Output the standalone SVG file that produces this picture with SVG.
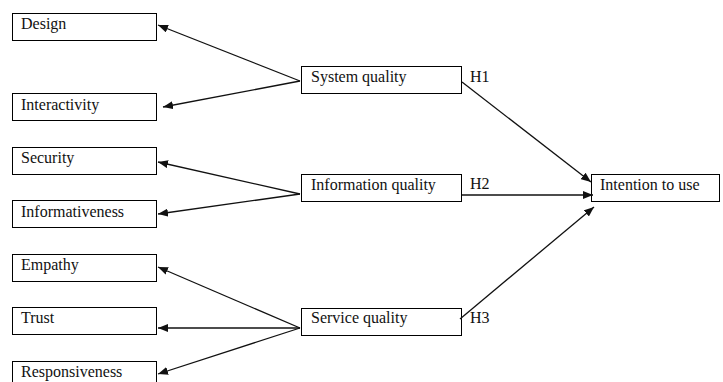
<svg xmlns="http://www.w3.org/2000/svg" width="723" height="382" viewBox="0 0 723 382">
<style>
.box{fill:#fff;stroke:#000;stroke-width:1}
.t{font-family:"Liberation Serif",serif;font-size:16px;fill:#111}
.c{stroke:#111;stroke-width:1.3;fill:none;marker-end:url(#ah)}
</style>
<defs>
<marker id="ah" viewBox="0 0 10 8" refX="10" refY="4" markerWidth="10" markerHeight="8" markerUnits="userSpaceOnUse" orient="auto">
<path d="M0,0 L10,4 L0,8 z" fill="#111"/>
</marker>
</defs>
<rect width="723" height="382" fill="#fff"/>
<g id="design"><rect class="box" x="12.5" y="13.5" width="144" height="27"/><text class="t" x="21" y="29">Design</text></g>
<g id="interactivity"><rect class="box" x="12.5" y="93.5" width="144" height="27"/><text class="t" x="21" y="110">Interactivity</text></g>
<g id="security"><rect class="box" x="12.5" y="147.5" width="144" height="27"/><text class="t" x="21" y="163">Security</text></g>
<g id="informativeness"><rect class="box" x="12.5" y="200.5" width="144" height="27"/><text class="t" x="21" y="217">Informativeness</text></g>
<g id="empathy"><rect class="box" x="12.5" y="254.5" width="144" height="27"/><text class="t" x="21" y="270">Empathy</text></g>
<g id="trust"><rect class="box" x="12.5" y="307.5" width="144" height="27"/><text class="t" x="21" y="323">Trust</text></g>
<g id="responsiveness"><rect class="box" x="12.5" y="361.5" width="144" height="27"/><text class="t" x="21" y="377">Responsiveness</text></g>
<g id="system"><rect class="box" x="301.5" y="66.5" width="160" height="27"/><text class="t" x="311" y="82">System quality</text></g>
<g id="information"><rect class="box" x="301.5" y="174.5" width="160" height="27"/><text class="t" x="311" y="190">Information quality</text></g>
<g id="service"><rect class="box" x="301.5" y="308.5" width="160" height="27"/><text class="t" x="311" y="323">Service quality</text></g>
<g id="intention"><rect class="box" x="591.5" y="174.5" width="128" height="27"/><text class="t" x="600" y="190">Intention to use</text></g>
<g id="labels">
<text class="t" x="470" y="82">H1</text>
<text class="t" x="470" y="189">H2</text>
<text class="t" x="470" y="323">H3</text>
</g>
<g id="connectors">
<line class="c" x1="300" y1="81" x2="158" y2="25"/>
<line class="c" x1="300" y1="81" x2="163" y2="107"/>
<line class="c" x1="300" y1="194" x2="158" y2="162"/>
<line class="c" x1="300" y1="194" x2="158" y2="214"/>
<line class="c" x1="300" y1="328" x2="158" y2="267"/>
<line class="c" x1="300" y1="328" x2="158" y2="328"/>
<line class="c" x1="300" y1="328" x2="158" y2="374"/>
<line class="c" x1="462" y1="82" x2="591" y2="182"/>
<line class="c" x1="462" y1="195" x2="593" y2="195"/>
<line class="c" x1="460" y1="319" x2="594" y2="207"/>
</g>
</svg>
